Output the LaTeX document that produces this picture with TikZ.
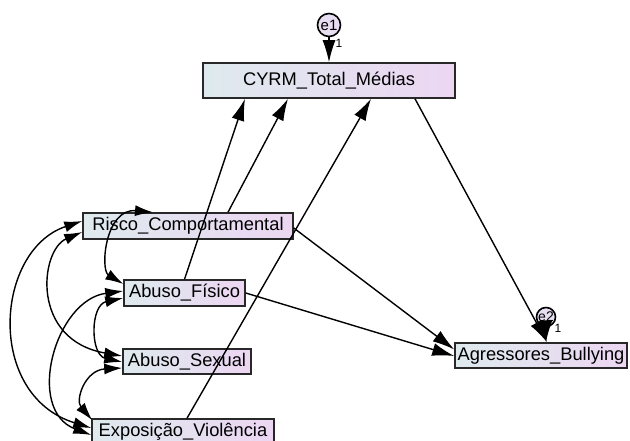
\documentclass[tikz,border=0pt]{standalone}
\usepackage{fontspec}
\setmainfont{Liberation Sans}
\usetikzlibrary{arrows.meta,calc}
\definecolor{boxL}{RGB}{222,234,238}
\definecolor{boxR}{RGB}{236,214,242}
\definecolor{errfill}{RGB}{232,222,242}
\definecolor{edge}{RGB}{40,40,40}
\begin{document}
\begin{tikzpicture}[x=1pt,y=-1pt,
  var/.style={draw=edge, line width=1.5pt, left color=boxL, right color=boxR,
    inner sep=0pt, font=\fontsize{18.3}{20}\selectfont},
  err/.style={circle, draw=black, line width=1.6pt, fill=errfill, inner sep=0pt,
    minimum size=23pt, font=\fontsize{15}{16}\selectfont},
  reg/.style={line width=1.4pt, -{Latex[length=22pt,width=13pt]}},
  cov/.style={line width=1.4pt, {Latex[length=18pt,width=11pt]}-{Latex[length=18pt,width=11pt]}},
  wt/.style={font=\fontsize{12}{13}\selectfont, inner sep=0pt}
]
\useasboundingbox (0,0) rectangle (630,441);
\fill[white] (0,0) rectangle (630,441);
\clip (0,0) rectangle (630,441);

% observed variables
\node[var, minimum width=252pt, minimum height=35pt] (cyrm)   at (329,80.5)  {CYRM\_Total\_Médias};
\node[var, minimum width=210pt, minimum height=26pt] (risco)  at (188,226)   {Risco\_Comportamental};
\node[var, minimum width=121pt, minimum height=26pt] (fisico) at (184.5,293) {Abuso\_Físico};
\node[var, minimum width=128pt, minimum height=25pt] (sexual) at (187,361.5) {Abuso\_Sexual};
\node[var, minimum width=182pt, minimum height=26pt] (expo)   at (183,432)   {Exposição\_Violência};
\node[var, minimum width=172pt, minimum height=25pt] (agr)    at (541,355.5) {Agressores\_Bullying};

% error terms
\node[err] (e1) at (329,25) {e1};
\node[err, minimum size=19pt, font=\fontsize{14}{15}\selectfont] (e2) at (546,317) {e2};
\draw[reg] (e1) -- (cyrm);
\node[wt] (w1) at (339,43) {1};
\draw[reg] (e2) -- (e2 |- agr.north);
\node[wt] (w2) at (558,328) {1};

% regression paths
\draw[reg] ($(risco.north)+(40,0)$) -- ($(cyrm.south)+(-41,0)$);
\draw[reg] (fisico.north) -- ($(cyrm.south)+(-84,0)$);
\draw[reg] ($(expo.north)+(4,0)$) -- ($(cyrm.south)+(42,0)$);
\draw[reg] ($(cyrm.south)+(86,0)$) -- ($(agr.north)+(6,0)$);
\draw[reg] ($(risco.east)+(0,2)$) -- ($(agr.west)+(0,-6)$);
\draw[reg] (fisico.east) -- ($(agr.west)+(0,0.5)$);

% covariances
\draw[cov] ($(risco.north)+(-35,0)$) .. controls (105,208) and (100,270) .. ($(fisico.west)+(0,-9)$);
\draw[cov] ($(risco.west)+(0,-5)$) .. controls (-5,250) and (-15,395) .. ($(expo.west)+(0,-4)$);
\draw[cov] ($(risco.west)+(0,6)$) .. controls (40,250) and (30,340) .. ($(sexual.west)+(0,-5.5)$);
\draw[cov] ($(fisico.west)+(0,-2)$) .. controls (55,300) and (25,410) .. ($(expo.west)+(0,3)$);
\draw[cov] ($(fisico.west)+(0,5)$) .. controls (90,305) and (90,355) .. ($(sexual.west)+(0,0.5)$);
\draw[cov] ($(sexual.west)+(0,6.5)$) .. controls (85,370) and (75,400) .. ($(expo.north west)+(1,2)$);
\end{tikzpicture}
\end{document}
